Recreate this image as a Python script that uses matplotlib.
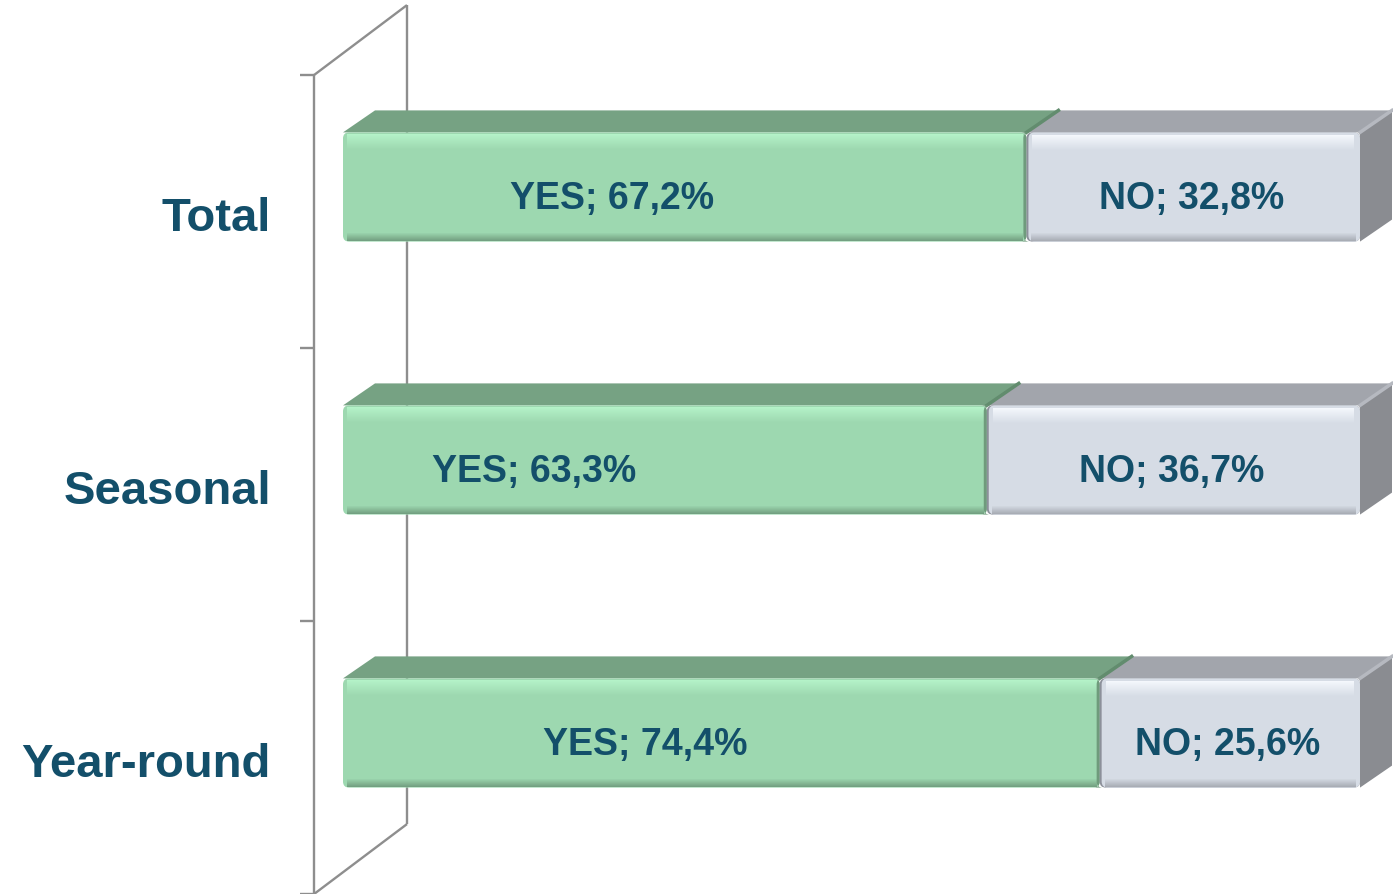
import numpy as np
import matplotlib
matplotlib.use("Agg")
import matplotlib.pyplot as plt
from matplotlib.patches import Polygon, FancyBboxPatch, Rectangle

categories = ["Total", "Seasonal", "Year-round"]
yes_share = [67.2, 63.3, 74.4]
no_share = [32.8, 36.7, 25.6]
yes_text = ["YES; 67,2%", "YES; 63,3%", "YES; 74,4%"]
no_text = ["NO; 32,8%", "NO; 36,7%", "NO; 25,6%"]

# excel put the YES labels off-centre, keep that (in % along the bar)
yes_label_x = [26.5, 18.8, 29.7]

W, H = 1393, 895
PX_X = 10.17   # pixels per percent
PX_Y = 273.0   # pixels per category step
BAR_H = 0.4
DX = 32 / PX_X
DY = -22 / PX_Y

TXT = "#134f6a"
GREEN = "#9dd8b0"
GREEN_HI = "#b4f2c8"
GREEN_LO = "#6f9a7c"
GREEN_TOP = "#76a283"
GREY = "#d6dce5"
GREY_HI = "#f4f7fc"
GREY_LO = "#9ea2aa"
GREY_TOP = "#a2a5ac"
GREY_SIDE = "#8a8c91"
WALL = "#8e8e8e"

plt.rcParams["font.family"] = ["Liberation Sans", "DejaVu Sans"]

fig = plt.figure(figsize=(W / 100, H / 100), dpi=100)
ax = fig.add_axes([0, 0, 1, 1])
ax.set_xlim(-343 / PX_X, (W - 343) / PX_X)
ax.set_ylim((H - 188) / PX_Y, -188 / PX_Y)
ax.axis("off")

# side wall of the 3d chart
wx = -29 / PX_X
wdx = 93 / PX_X
wdy = -70 / PX_Y
w_top = -0.41
w_bot = w_top + len(categories)
kw = dict(color=WALL, lw=1.7, zorder=1, solid_capstyle="butt")
ax.plot([wx, wx], [w_top, w_bot], **kw)
ax.plot([wx + wdx, wx + wdx], [w_top + wdy, w_bot + wdy], **kw)
ax.plot([wx, wx + wdx], [w_top, w_top + wdy], **kw)
ax.plot([wx, wx + wdx], [w_bot, w_bot + wdy], **kw)
for t in np.arange(len(categories) + 1) + w_top:
    ax.plot([wx - 14 / PX_X, wx], [t, t], **kw)

asp = PX_X / PX_Y
px = 1 / PX_X
py = 1 / PX_Y


def front(x0, w, y0, col, z, r=0.6):
    ax.add_patch(FancyBboxPatch((x0, y0), w, BAR_H,
                                boxstyle="round,pad=0,rounding_size=%g" % r,
                                mutation_aspect=asp, fc=col, ec="none", zorder=z))


def band(x0, w, y0, n, col, a0, a1, z):
    # n one-pixel strips, alpha going from a0 to a1
    for k, a in enumerate(np.linspace(a0, a1, n)):
        ax.add_patch(Rectangle((x0, y0 + k * py), w, py * 1.05,
                               fc=col, ec="none", alpha=a, lw=0, zorder=z))


for i, cat in enumerate(categories):
    yes = yes_share[i]
    no = no_share[i]
    top = i - BAR_H / 2
    bot = i + BAR_H / 2

    # green segment
    ax.add_patch(Polygon([(0, top), (yes, top), (yes + DX, top + DY), (DX, top + DY)],
                         closed=True, fc=GREEN_TOP, ec="none", zorder=2))
    front(0, yes, top, GREEN, 3)
    band(4 * px, yes - 7 * px, top + 2 * py, 16, GREEN_HI, 1.0, 0.0, 3.1)
    band(4 * px, yes - 7 * px, bot - 10 * py, 9, GREEN_LO, 0.0, 0.9, 3.1)

    # grey segment
    x1 = yes + no
    ax.add_patch(Polygon([(yes, top), (x1, top), (x1 + DX, top + DY), (yes + DX, top + DY)],
                         closed=True, fc=GREY_TOP, ec="none", zorder=4))
    ax.plot([yes, yes + DX], [top, top + DY], color="#628c6e", lw=2.5, zorder=4.1)
    ax.add_patch(Polygon([(x1, top), (x1 + DX, top + DY), (x1 + DX, bot + DY), (x1, bot)],
                         closed=True, fc=GREY_SIDE, ec="none", zorder=4))
    ax.plot([x1, x1 + DX], [top, top + DY], color="#b6b9c0", lw=2.5, zorder=4.1)
    front(yes - 3 * px, 3 * px + 0.01, top, "#6f9b7c", 4.2)
    front(yes, no, top, "#8c909a", 5)
    front(yes + 2 * px, no - 2 * px, top, GREY, 5.1)
    band(yes + 6 * px, no - 12 * px, top + 3 * py, 16, GREY_HI, 1.0, 0.0, 5.2)
    band(yes + 5 * px, no - 9 * px, bot - 10 * py, 9, GREY_LO, 0.0, 0.8, 5.2)

    # labels
    ax.text(yes_label_x[i], i + 21 * py, yes_text[i], ha="center", va="baseline",
            fontsize=27, fontweight="bold", color=TXT, zorder=6)
    ax.text(yes + no / 2 - 0.2, i + 21 * py, no_text[i], ha="center", va="baseline",
            fontsize=27, fontweight="bold", color=TXT, zorder=6)
    ax.text(-72 * px, i + 43 * py, cat, ha="right", va="baseline",
            fontsize=34, fontweight="bold", color=TXT, zorder=6)

fig.savefig("out.png", dpi=100)
